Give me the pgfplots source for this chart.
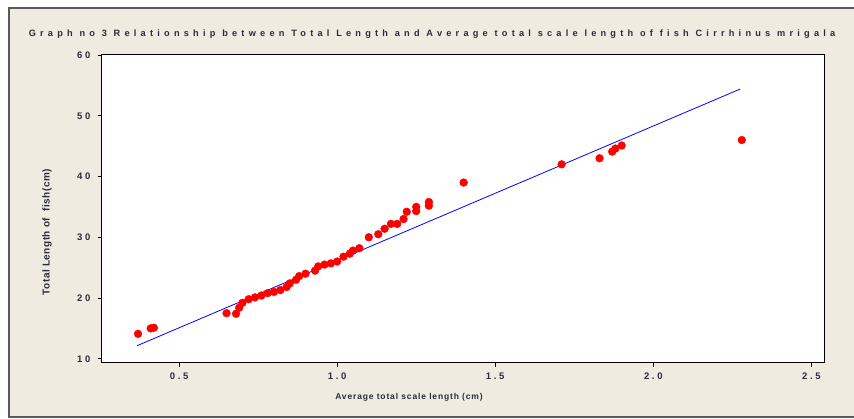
\documentclass[border=0pt]{standalone}
\usepackage{fontspec}
\setmainfont{Liberation Sans}
\newfontfamily\spacedfont{Liberation Sans}[LetterSpace=46]
\newfontfamily\xlabfont{Liberation Sans}[LetterSpace=10]
\newfontfamily\tickfont{Liberation Sans}[LetterSpace=28]
\newfontfamily\ylabfont{Liberation Sans}[LetterSpace=5]
\usepackage{pgfplots}
\pgfplotsset{compat=1.18}
\definecolor{bg}{HTML}{EFEBE1}
\definecolor{txt}{HTML}{2C2C3A}
\begin{document}
\begin{tikzpicture}
\path[use as bounding box] (-102pt,-56pt) rectangle (752pt,363pt);
\draw[line width=1.2pt, draw=black!65, fill=bg] (-93pt,-54pt) rectangle (770pt,355pt);
\begin{axis}[at={(0,0)}, anchor=south west, scale only axis,
  width=722pt, height=308pt,
  xmin=0.256, xmax=2.54, ymin=9.3, ymax=60,
  xtick={0.5,1,1.5,2,2.5}, xticklabels={0.5,1.0,1.5,2.0,2.5},
  ytick={10,20,30,40,50,60}, yticklabels={10,20,30,40,50,60},
  axis background/.style={fill=white},
  axis line style={line width=1pt, black},
  tick align=outside, tick pos=left, major tick length=4pt,
  tick style={line width=0.9pt, black},
  ticklabel style={font=\fontsize{9.5}{10}\selectfont\bfseries\tickfont, text=txt},
  xticklabel style={yshift=-2pt},
  yticklabel style={xshift=-4pt},
  clip=false]
\addplot[blue, line width=0.8pt] coordinates {(0.367,12.15) (2.275,54.4)};
\addplot[only marks, mark=*, mark size=3.9pt, color=red, mark options={fill=red, draw=red}] coordinates {
(0.37,14.1) (0.41,15.0) (0.42,15.1) (0.65,17.5) (0.68,17.4) (0.69,18.4)
(0.70,19.2) (0.72,19.8) (0.74,20.1) (0.76,20.4) (0.78,20.8) (0.80,21.0)
(0.82,21.3) (0.84,21.8) (0.85,22.4) (0.87,23.0) (0.88,23.6) (0.90,24.0)
(0.93,24.5) (0.94,25.2) (0.96,25.5) (0.98,25.7) (1.00,26.0) (1.02,26.8)
(1.04,27.3) (1.05,27.8) (1.07,28.2) (1.10,30.0) (1.13,30.5) (1.15,31.4)
(1.17,32.2) (1.19,32.2) (1.21,33.0) (1.22,34.2) (1.25,35.0) (1.25,34.3)
(1.29,35.8) (1.29,35.2) (1.40,39.0) (1.71,42.0) (1.83,43.0) (1.87,44.1)
(1.88,44.6) (1.90,45.1) (2.28,46.0)};
\end{axis}
\node[text=txt, font=\fontsize{9.2}{10}\selectfont\bfseries\spacedfont] at (330pt,329pt) {Graph no 3 Relationship between Total Length and Average total scale length of fish Cirrhinus mrigala};
\node[text=txt, font=\fontsize{8.5}{9}\selectfont\bfseries\xlabfont] at (307pt,-34pt) {Average total scale length (cm)};
\node[text=txt, font=\fontsize{10}{11}\selectfont\bfseries\ylabfont, rotate=90] at (-55pt,131pt) {Total Length of\ \ fish(cm)};
\end{tikzpicture}
\end{document}
